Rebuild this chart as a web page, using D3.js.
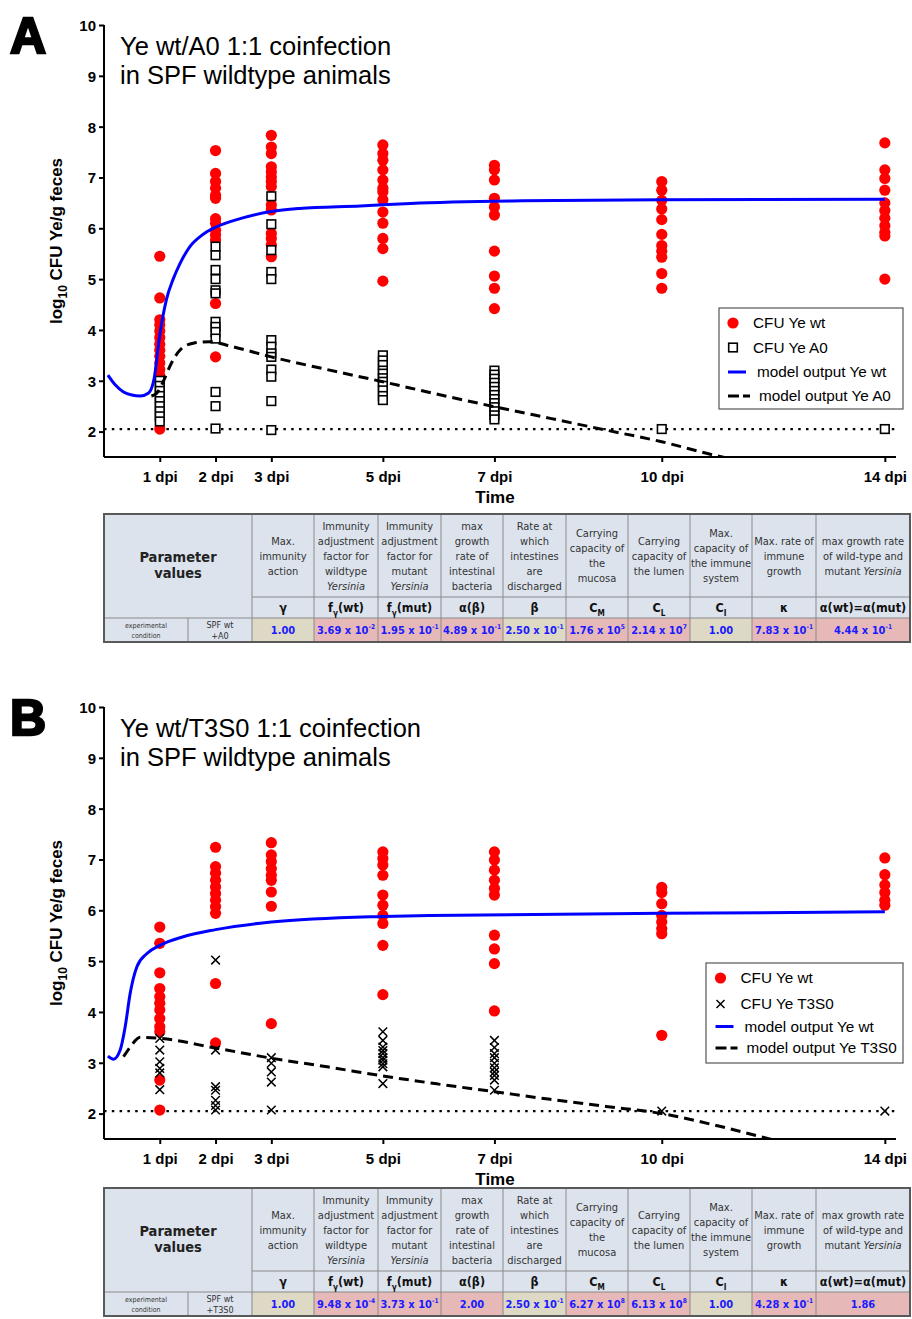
<!DOCTYPE html>
<html>
<head>
<meta charset="utf-8">
<script src="https://cdn.jsdelivr.net/npm/d3@7"></script>
<style>
  body { margin: 0; background: #fff; }
  text { font-family: Arial, "Liberation Sans", sans-serif; }
  .tbl text { font-family: "Liberation Sans Narrow", "DejaVu Sans Condensed", "Open Sans", sans-serif; }
</style>
</head>
<body>
<div id="chart"></div>
<script>
// ---- data ----
var days = [1, 2, 3, 5, 7, 10, 14];
var dayLabels = ["1 dpi", "2 dpi", "3 dpi", "5 dpi", "7 dpi", "10 dpi", "14 dpi"];
var yTicks = [2, 3, 4, 5, 6, 7, 8, 9, 10];
var detectionLimit = 2.05;

// panel A: Ye wt (red dots) and Ye A0 (squares), one list per day
var wtA = [
  [5.45, 4.63, 4.2, 4.1, 3.98, 3.85, 3.72, 3.6, 3.48, 3.35, 3.22, 3.1, 2.05],
  [7.53, 7.08, 6.92, 6.79, 6.65, 6.59, 6.19, 6.1, 5.96, 5.87, 5.77, 4.52, 3.47],
  [7.83, 7.6, 7.47, 7.21, 7.11, 7.01, 6.92, 6.82, 6.46, 6.36, 5.9, 5.8, 5.67, 5.44],
  [7.64, 7.47, 7.34, 7.15, 6.95, 6.79, 6.72, 6.56, 6.32, 6.1, 5.8, 5.6, 4.96],
  [7.24, 7.15, 6.95, 6.59, 6.42, 6.26, 5.55, 5.06, 4.82, 4.42],
  [6.92, 6.75, 6.55, 6.38, 6.17, 5.88, 5.66, 5.55, 5.43, 5.11, 4.82],
  [7.68, 7.15, 6.98, 6.75, 6.5, 6.35, 6.2, 6.05, 5.92, 5.85, 5.0]
];
var mutA = [
  [3.0, 2.9, 2.8, 2.7, 2.6, 2.5, 2.4, 2.3, 2.2],
  [5.64, 5.47, 5.18, 5.0, 4.78, 4.72, 4.16, 4.06, 3.96, 3.83, 2.78, 2.5, 2.06],
  [6.63, 6.08, 5.57, 5.14, 5.0, 3.8, 3.67, 3.54, 3.47, 3.22, 3.08, 2.6, 2.03],
  [3.5, 3.4, 3.31, 3.2, 3.14, 3.05, 2.98, 2.9, 2.81, 2.7, 2.62],
  [3.2, 3.12, 3.04, 2.96, 2.88, 2.8, 2.72, 2.64, 2.56, 2.48, 2.4, 2.32, 2.24],
  [2.05],
  [2.05]
];
var modelWtA = [[0.07, 3.11], [0.2, 2.92], [0.35, 2.78], [0.5, 2.72], [0.65, 2.7], [0.8, 2.76],
  [0.9, 3.05], [1.0, 3.9], [1.12, 4.6], [1.24, 5.0], [1.36, 5.3], [1.54, 5.64], [1.75, 5.86],
  [2.0, 6.02], [2.44, 6.19], [3.0, 6.33], [3.5, 6.39], [4.6, 6.44], [5.5, 6.49], [7.5, 6.54],
  [10, 6.56], [14, 6.57]];
var modelMutA = [[0.85, 2.7], [0.95, 2.76], [1.06, 2.98], [1.21, 3.35], [1.36, 3.6], [1.6, 3.74],
  [1.9, 3.77], [2.2, 3.7], [3.0, 3.47], [4.0, 3.22], [5.0, 2.98], [6.0, 2.73], [7.0, 2.49],
  [8.0, 2.26], [9.0, 2.03], [10, 1.8], [11, 1.52], [11.3, 1.45]];

// panel B: Ye wt (red dots) and Ye T3S0 (crosses)
var wtB = [
  [5.67, 5.35, 4.77, 4.46, 4.3, 4.17, 4.04, 3.87, 3.71, 3.61, 2.66, 2.07],
  [7.24, 6.86, 6.73, 6.59, 6.46, 6.33, 6.2, 6.07, 5.94, 4.56, 3.39],
  [7.33, 7.09, 6.96, 6.82, 6.69, 6.59, 6.36, 6.08, 3.77],
  [7.15, 7.02, 6.89, 6.69, 6.3, 6.1, 5.9, 5.74, 5.31, 4.34],
  [7.15, 6.99, 6.79, 6.59, 6.43, 6.3, 5.51, 5.24, 4.95, 4.02],
  [6.45, 6.35, 6.13, 5.9, 5.77, 5.64, 5.54, 3.54],
  [7.03, 6.7, 6.5, 6.35, 6.2, 6.1, 4.3]
];
var mutB = [
  [3.48, 3.25, 3.02, 2.89, 2.8, 2.47],
  [5.02, 3.25, 2.53, 2.46, 2.26, 2.16, 2.07],
  [3.1, 2.99, 2.82, 2.62, 2.07],
  [3.61, 3.44, 3.31, 3.24, 3.18, 3.1, 3.05, 2.98, 2.92, 2.59],
  [3.44, 3.3, 3.18, 3.1, 2.99, 2.9, 2.82, 2.75, 2.66, 2.46],
  [2.05],
  [2.05]
];
var modelWtB = [[0.07, 3.13], [0.17, 3.07], [0.29, 3.25], [0.38, 3.71], [0.47, 4.37], [0.59, 4.89],
  [0.77, 5.15], [1.0, 5.31], [1.42, 5.48], [2.0, 5.62], [3.0, 5.77], [5.0, 5.88], [5.84, 5.9],
  [10, 5.94], [14, 5.97]];
var modelMutB = [[0.35, 3.12], [0.47, 3.31], [0.65, 3.5], [1.0, 3.48], [2.0, 3.29], [3.0, 3.09],
  [4.0, 2.92], [5.0, 2.74], [6.0, 2.58], [7.0, 2.43], [8.0, 2.28], [9.0, 2.14], [10, 2.0],
  [11, 1.76], [12, 1.48]];

// parameter table
var paramText = [
  ["Max.", "immunity", "action"],
  ["Immunity", "adjustment", "factor for", "wildtype", "*Yersinia"],
  ["Immunity", "adjustment", "factor for", "mutant", "*Yersinia"],
  ["max", "growth", "rate of", "intestinal", "bacteria"],
  ["Rate at", "which", "intestines", "are", "discharged"],
  ["Carrying", "capacity of", "the", "mucosa"],
  ["Carrying", "capacity of", "the lumen"],
  ["Max.", "capacity of", "the immune", "system"],
  ["Max. rate of", "immune", "growth"],
  ["max growth rate", "of wild-type and", "mutant |*Yersinia"]
];
var paramSymbols = ["γ", "f_γ_(wt)", "f_γ_(mut)", "α(β)", "β", "C_M", "C_L", "C_I", "κ", "α(wt)=α(mut)"];
var valuesA = ["1.00", "3.69 x 10^-2", "1.95 x 10^-1", "4.89 x 10^-1", "2.50 x 10^-1", "1.76 x 10^5",
  "2.14 x 10^7", "1.00", "7.83 x 10^-1", "4.44 x 10^-1"];
var valuesB = ["1.00", "9.48 x 10^-4", "3.73 x 10^-1", "2.00", "2.50 x 10^-1", "6.27 x 10^8",
  "6.13 x 10^8", "1.00", "4.28 x 10^-1", "1.86"];
var cellKindA = ["t", "p", "p", "p", "t", "p", "p", "t", "p", "p"];
var cellKindB = ["t", "p", "p", "p", "t", "p", "p", "t", "p", "p"];

// ---- drawing ----
var W = 912, H = 1319;
var svg = d3.select("#chart").append("svg").attr("width", W).attr("height", H);

var x = d3.scaleLinear().domain([0, 14.2]).range([104, 896]);

function panel(o) {
  var g = svg.append("g");
  var y = d3.scaleLinear().domain([1.5, 10]).range([o.bottom, o.top]);

  var clipId = "clip" + o.letter;
  svg.append("clipPath").attr("id", clipId).append("rect")
    .attr("x", 104).attr("y", o.top - 10).attr("width", 792).attr("height", o.bottom - o.top + 10);

  // letter + title
  g.append("text").attr("x", 10).attr("y", o.top + 28).attr("font-size", 50).attr("font-weight", "bold")
    .attr("stroke", "#000").attr("stroke-width", 2.4).text(o.letter);
  g.append("text").attr("x", 120).attr("y", o.top + 30).attr("font-size", 25.5).text(o.title1);
  g.append("text").attr("x", 120).attr("y", o.top + 59).attr("font-size", 25.5).text(o.title2);

  // detection limit
  g.append("line").attr("x1", 104).attr("x2", 896)
    .attr("y1", y(detectionLimit)).attr("y2", y(detectionLimit))
    .attr("stroke", "#000").attr("stroke-width", 2.2).attr("stroke-dasharray", "2.5,5.3");

  // points
  var wt = [], mut = [];
  days.forEach(function(d, i) {
    o.wt[i].forEach(function(v) { wt.push([d, v]); });
    o.mut[i].forEach(function(v) { mut.push([d, v]); });
  });
  g.selectAll(".wt").data(wt).enter().append("circle")
    .attr("cx", function(d) { return x(d[0]); })
    .attr("cy", function(d) { return y(d[1]); })
    .attr("r", 5.6).attr("fill", "#ff0000");
  if (o.marker === "square") {
    g.selectAll(".mut").data(mut).enter().append("rect")
      .attr("x", function(d) { return x(d[0]) - 4.3; })
      .attr("y", function(d) { return y(d[1]) - 4.3; })
      .attr("width", 8.6).attr("height", 8.6)
      .attr("fill", "#fff").attr("stroke", "#000").attr("stroke-width", 1.6);
  } else {
    g.selectAll(".mut").data(mut).enter().append("path")
      .attr("d", function(d) {
        var cx = x(d[0]), cy = y(d[1]), s = 4.3;
        return "M" + (cx - s) + "," + (cy - s) + "L" + (cx + s) + "," + (cy + s) +
          "M" + (cx - s) + "," + (cy + s) + "L" + (cx + s) + "," + (cy - s);
      })
      .attr("fill", "none").attr("stroke", "#000").attr("stroke-width", 1.5);
  }

  // model lines
  var line = d3.line().x(function(d) { return x(d[0]); }).y(function(d) { return y(d[1]); })
    .curve(d3.curveMonotoneX);
  g.append("path").datum(o.modelWt).attr("d", line).attr("clip-path", "url(#" + clipId + ")")
    .attr("fill", "none").attr("stroke", "#0000ff").attr("stroke-width", 3);
  g.append("path").datum(o.modelMut).attr("d", line).attr("clip-path", "url(#" + clipId + ")")
    .attr("fill", "none").attr("stroke", "#000").attr("stroke-width", 3).attr("stroke-dasharray", "10,6");

  // axes
  var yAxis = d3.axisLeft(y).tickValues(yTicks).tickSize(5).tickPadding(3).tickFormat(d3.format("d"));
  var ya = g.append("g").attr("transform", "translate(104,0)").call(yAxis);
  ya.select(".domain").attr("d", "M0," + y(10) + "V" + o.bottom);
  var xAxis = d3.axisBottom(x).tickValues(days).tickSize(5).tickPadding(9)
    .tickFormat(function(d, i) { return dayLabels[i]; });
  var xa = g.append("g").attr("transform", "translate(0," + o.bottom + ")").call(xAxis);
  xa.select(".domain").attr("d", "M104,0H896");
  [ya, xa].forEach(function(a) {
    a.selectAll("path, line").attr("stroke", "#000").attr("stroke-width", 2);
    a.selectAll("text").attr("font-size", 15).attr("font-weight", "bold").attr("fill", "#000")
      .attr("font-family", "Arial, 'Liberation Sans', sans-serif");
  });
  ya.selectAll("text").attr("dy", "0.36em");

  g.append("text").attr("x", 495).attr("y", o.bottom + 46).attr("text-anchor", "middle")
    .attr("font-size", 17).attr("font-weight", "bold").text("Time");
  var yl = g.append("text").attr("transform", "translate(62," + ((o.top + o.bottom) / 2) + ") rotate(-90)")
    .attr("text-anchor", "middle").attr("font-size", 17).attr("font-weight", "bold");
  yl.append("tspan").text("log");
  yl.append("tspan").attr("font-size", 12).attr("dy", 5).text("10");
  yl.append("tspan").attr("dy", -5).text(" CFU Ye/g feces");

  // legend
  var L = o.legend;
  g.append("rect").attr("x", L.x).attr("y", L.y).attr("width", L.w).attr("height", L.h)
    .attr("fill", "#fff").attr("stroke", "#555").attr("stroke-width", 1.2);
  var rows = L.rows;
  g.append("circle").attr("cx", L.mx).attr("cy", rows[0]).attr("r", 5.6).attr("fill", "#ff0000");
  if (o.marker === "square") {
    g.append("rect").attr("x", L.mx - 4.3).attr("y", rows[1] - 4.3).attr("width", 8.6).attr("height", 8.6)
      .attr("fill", "#fff").attr("stroke", "#000").attr("stroke-width", 1.6);
  } else {
    g.append("path").attr("d", "M" + (L.mx - 4) + "," + (rows[1] - 4) + "l8,8m-8,0l8,-8")
      .attr("stroke", "#000").attr("stroke-width", 1.5);
  }
  g.append("line").attr("x1", L.mx - 5).attr("x2", L.mx + 13).attr("y1", rows[2]).attr("y2", rows[2])
    .attr("stroke", "#0000ff").attr("stroke-width", 3);
  g.append("line").attr("x1", L.mx - 5).attr("x2", L.mx + 17).attr("y1", rows[3]).attr("y2", rows[3])
    .attr("stroke", "#000").attr("stroke-width", 3).attr("stroke-dasharray", "11,4");
  o.legendLabels.forEach(function(t, i) {
    g.append("text").attr("x", L.mx + (i < 2 ? 20 : 24 + (i === 3 ? 2 : 0))).attr("y", rows[i] + 5)
      .attr("font-size", 15.3).text(t);
  });
}

panel({
  letter: "A", top: 25, bottom: 457,
  title1: "Ye wt/A0 1:1 coinfection", title2: "in SPF wildtype animals",
  wt: wtA, mut: mutA, modelWt: modelWtA, modelMut: modelMutA, marker: "square",
  legend: { x: 719, y: 308, w: 184, h: 101, mx: 733, rows: [323, 347.5, 372, 396] },
  legendLabels: ["CFU Ye wt", "CFU Ye A0", "model output Ye wt", "model output Ye A0"]
});
panel({
  letter: "B", top: 707, bottom: 1139,
  title1: "Ye wt/T3S0 1:1 coinfection", title2: "in SPF wildtype animals",
  wt: wtB, mut: mutB, modelWt: modelWtB, modelMut: modelMutB, marker: "cross",
  legend: { x: 706, y: 963, w: 197, h: 100, mx: 720.5, rows: [978, 1004, 1026.5, 1048] },
  legendLabels: ["CFU Ye wt", "CFU Ye T3S0", "model output Ye wt", "model output Ye T3S0"]
});

// ---- parameter tables ----
var colX = [104, 188, 252, 314, 378, 441, 503, 566, 628, 690, 752, 816, 910];
var headBg = "#dce3ed", tanBg = "#ddd9c4", pinkBg = "#e6b9b8";

function richText(sel, str, size) {
  // "_" toggles subscript, "^" starts superscript, "*" italic, "|" separator
  var parts = str.split("|");
  parts.forEach(function(p) {
    var it = p.charAt(0) === "*";
    if (it) p = p.slice(1);
    if (p.indexOf("^") >= 0) {
      var s = p.split("^");
      sel.append("tspan").text(s[0]);
      sel.append("tspan").attr("font-size", size * 0.6).attr("dy", -size * 0.42).text(s[1]);
    } else if (p.indexOf("_") >= 0) {
      var s2 = p.split("_");
      s2.forEach(function(q, k) {
        if (q === "") return;
        var t = sel.append("tspan").text(q);
        if (k === 1) t.attr("font-size", size * 0.65).attr("dy", size * 0.3);
        if (k === 2) t.attr("dy", -size * 0.3);
      });
    } else {
      var t = sel.append("tspan").text(p);
      if (it) t.attr("font-style", "italic");
    }
  });
}

function table(y0, values, kinds, condLabel) {
  var g = svg.append("g").attr("class", "tbl");
  var hH = 83, sH = 21, dH = 24;
  var y1 = y0 + hH, y2 = y1 + sH, y3 = y2 + dH;
  // header backgrounds
  g.append("rect").attr("x", colX[0]).attr("y", y0).attr("width", colX[12] - colX[0]).attr("height", hH + sH)
    .attr("fill", headBg);
  g.append("rect").attr("x", colX[0]).attr("y", y2).attr("width", colX[2] - colX[0]).attr("height", dH)
    .attr("fill", headBg);
  values.forEach(function(v, i) {
    g.append("rect").attr("x", colX[i + 2]).attr("y", y2).attr("width", colX[i + 3] - colX[i + 2])
      .attr("height", dH).attr("fill", kinds[i] === "t" ? tanBg : pinkBg);
  });
  // grid
  var gs = "#8a8a8a";
  for (var i = 2; i < 12; i++) {
    g.append("line").attr("x1", colX[i]).attr("x2", colX[i]).attr("y1", y0).attr("y2", y3)
      .attr("stroke", gs).attr("stroke-width", 1);
  }
  g.append("line").attr("x1", colX[1]).attr("x2", colX[1]).attr("y1", y2).attr("y2", y3)
    .attr("stroke", gs).attr("stroke-width", 1);
  g.append("line").attr("x1", colX[2]).attr("x2", colX[12]).attr("y1", y1).attr("y2", y1)
    .attr("stroke", gs).attr("stroke-width", 1);
  g.append("line").attr("x1", colX[0]).attr("x2", colX[12]).attr("y1", y2).attr("y2", y2)
    .attr("stroke", gs).attr("stroke-width", 1);
  g.append("rect").attr("x", colX[0]).attr("y", y0).attr("width", colX[12] - colX[0]).attr("height", y3 - y0)
    .attr("fill", "none").attr("stroke", "#595959").attr("stroke-width", 2);

  // "Parameter values"
  g.append("text").attr("x", (colX[0] + colX[2]) / 2).attr("y", y0 + 48).attr("text-anchor", "middle")
    .attr("font-size", 14.5).attr("font-weight", "bold").attr("fill", "#222").text("Parameter");
  g.append("text").attr("x", (colX[0] + colX[2]) / 2).attr("y", y0 + 64).attr("text-anchor", "middle")
    .attr("font-size", 14.5).attr("font-weight", "bold").attr("fill", "#222").text("values");

  paramText.forEach(function(lines, i) {
    var cx = (colX[i + 2] + colX[i + 3]) / 2;
    var startY = y0 + hH / 2 - (lines.length - 1) * 15 / 2 + 4;
    lines.forEach(function(ln, k) {
      var t = g.append("text").attr("x", cx).attr("y", startY + k * 15).attr("text-anchor", "middle")
        .attr("font-size", 11).attr("fill", "#333");
      richText(t, ln, 11);
    });
    var s = g.append("text").attr("x", cx).attr("y", y1 + 15).attr("text-anchor", "middle")
      .attr("font-size", 12.5).attr("font-weight", "bold").attr("fill", "#111");
    richText(s, paramSymbols[i], 12.5);
    var v = g.append("text").attr("x", cx).attr("y", y2 + 16).attr("text-anchor", "middle")
      .attr("font-size", 11).attr("font-weight", "bold").attr("fill", "#1a1aff");
    richText(v, values[i], 11);
  });

  g.append("text").attr("x", (colX[0] + colX[1]) / 2).attr("y", y2 + 10).attr("text-anchor", "middle")
    .attr("font-size", 7).attr("fill", "#333").text("experimental");
  g.append("text").attr("x", (colX[0] + colX[1]) / 2).attr("y", y2 + 20).attr("text-anchor", "middle")
    .attr("font-size", 7).attr("fill", "#333").text("condition");
  g.append("text").attr("x", (colX[1] + colX[2]) / 2).attr("y", y2 + 10).attr("text-anchor", "middle")
    .attr("font-size", 9).attr("fill", "#333").text("SPF wt");
  g.append("text").attr("x", (colX[1] + colX[2]) / 2).attr("y", y2 + 21).attr("text-anchor", "middle")
    .attr("font-size", 9).attr("fill", "#333").text(condLabel);
}

table(514, valuesA, cellKindA, "+A0");
table(1188, valuesB, cellKindB, "+T3S0");
</script>
</body>
</html>
